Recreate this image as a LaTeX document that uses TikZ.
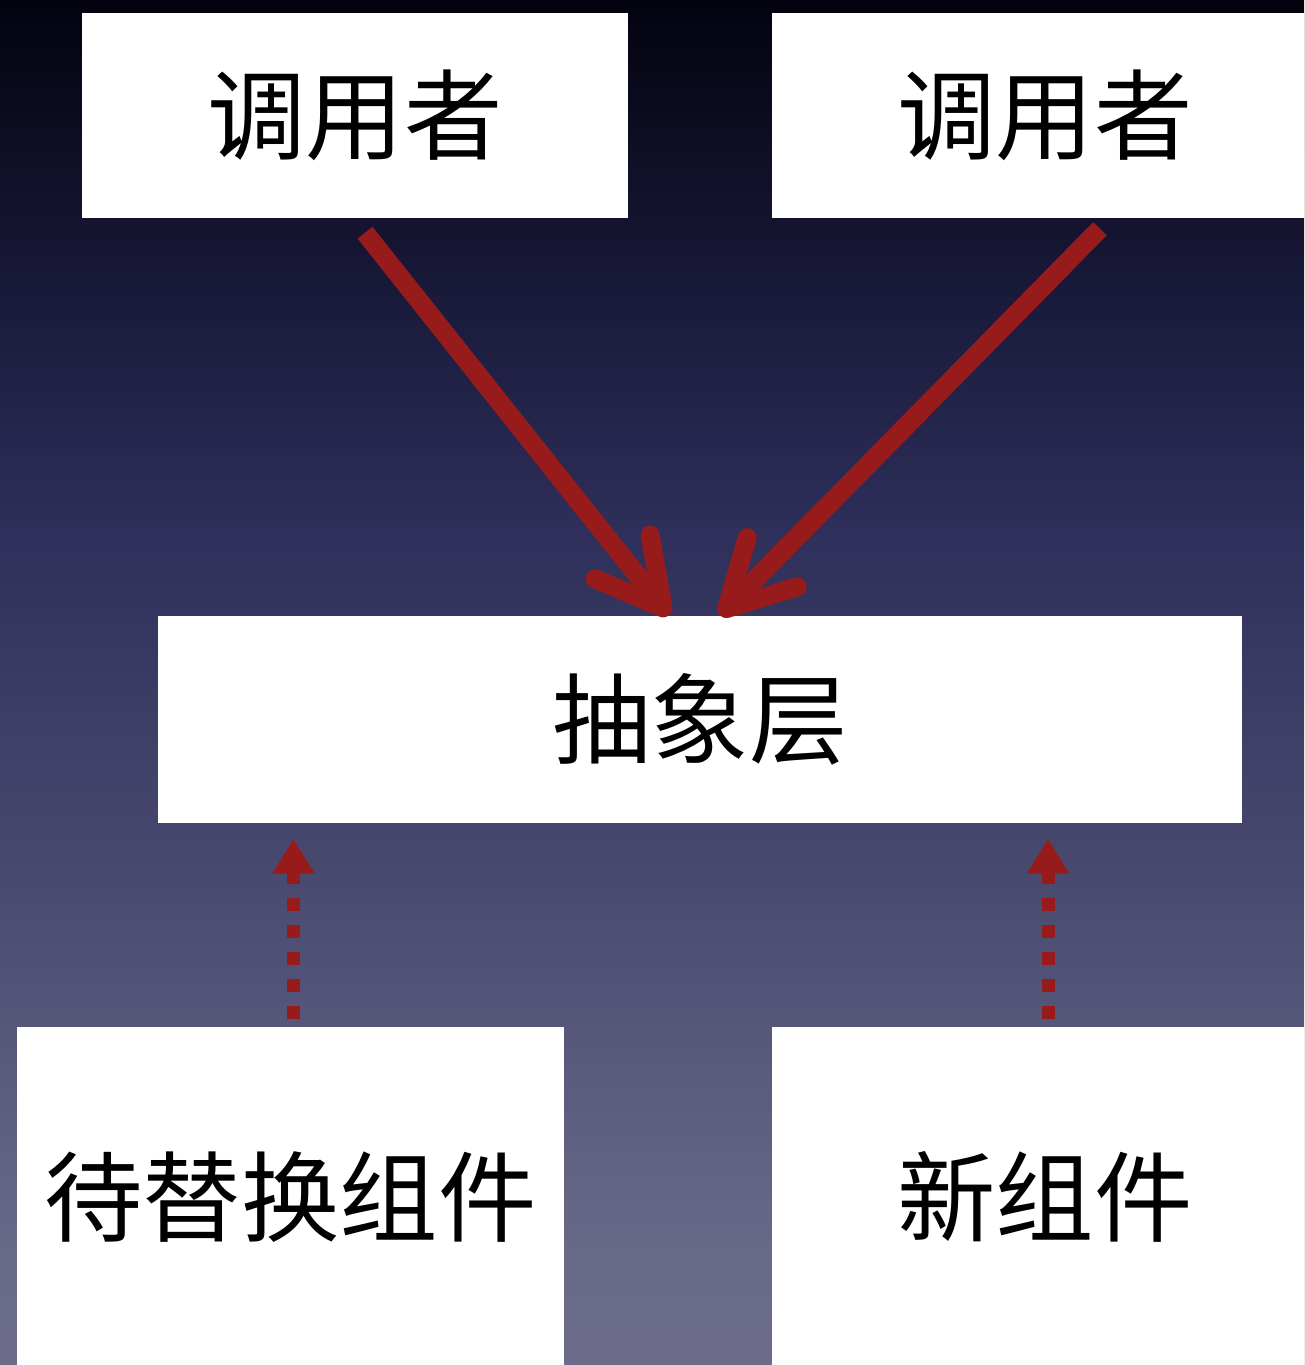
\documentclass[tikz,border=0pt]{standalone}
\usepackage{fontspec}
\newfontfamily\cjk{Noto Sans CJK SC}
\usetikzlibrary{arrows.meta}
\definecolor{arrowred}{RGB}{152,27,27}
\definecolor{bgtop}{RGB}{3,3,15}
\definecolor{bgnavy}{RGB}{24,24,56}
\definecolor{bgblue}{RGB}{46,47,90}
\definecolor{bgmid}{RGB}{74,74,112}
\definecolor{bglow}{RGB}{103,104,135}
\definecolor{bgbot}{RGB}{108,108,138}
\pgfdeclareverticalshading{slidebg}{100bp}{color(0bp)=(bgbot); color(25bp)=(bgbot);
  color(30bp)=(bglow); color(42.75bp)=(bgmid); color(55.6bp)=(bgblue);
  color(64.75bp)=(bgnavy); color(75bp)=(bgtop); color(100bp)=(bgtop)}

\begin{document}
\begin{tikzpicture}[
  box/.style={fill=white, inner sep=0pt, font=\cjk\fontsize{28}{30}\selectfont},
  callarrow/.style={draw=arrowred, line width=1.9mm,
    -{Straight Barb[length=6.5mm, width=7mm, round]}},
  implarrow/.style={draw=arrowred, line width=1.3mm, dash pattern=on 1.3mm off 1.4mm,
    -{Triangle[length=3.5mm, width=4mm]}}
  ]
  \useasboundingbox (0,0) rectangle (13.04,13.65);
  \clip (0,0) rectangle (13.04,13.65);
  \shade[shading=slidebg] (0,0) rectangle (13.04,13.65);

  \node[box, minimum width=5.46cm, minimum height=2.05cm] (tl) at (3.55,12.495) {调用者};
  \node[box, minimum width=5.46cm, minimum height=2.05cm] (tr) at (10.45,12.495) {调用者};
  \node[box, minimum width=10.84cm, minimum height=2.07cm] (abs) at (7.00,6.455) {抽象层};
  \node[box, minimum width=5.47cm, minimum height=3.4cm] (old) at (2.905,1.68) {待替换组件};
  \node[box, minimum width=5.46cm, minimum height=3.4cm] (new) at (10.45,1.68) {新组件};

  \path
  ([xshift=1mm,yshift=-1.4mm]tl.south) edge[callarrow] ([xshift=-3.1mm]abs.north)
  ([xshift=5.5mm,yshift=-1mm]tr.south) edge[callarrow] ([xshift=2mm]abs.north)
  ([xshift=0.3mm,yshift=0.7mm]old.north) edge[implarrow] ([xshift=0.3mm,yshift=-1.5mm]old.north |- abs.south)
  ([xshift=0.3mm,yshift=0.7mm]new.north) edge[implarrow] ([xshift=0.3mm,yshift=-1.5mm]new.north |- abs.south)
  ;
\end{tikzpicture}
\end{document}
